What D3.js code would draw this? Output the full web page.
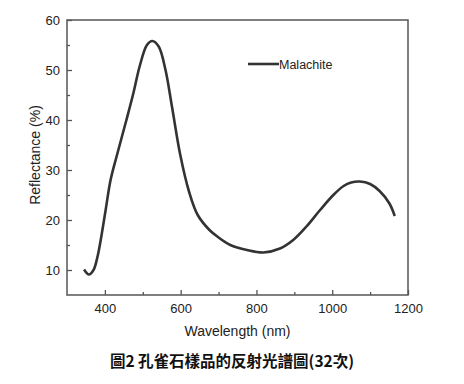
<!DOCTYPE html>
<html>
<head>
<meta charset="utf-8">
<script src="https://cdn.jsdelivr.net/npm/d3@7"></script>
<style>
  body { margin: 0; background: #fff; }
  svg { display: block; }
</style>
</head>
<body>
<div id="chart"></div>
<script>
// spectrum
var wavelength = [345, 358, 370, 380, 389, 402, 415, 433, 455, 475, 492, 511, 525, 542, 560, 577, 599, 622, 645, 676, 700, 731, 775, 818, 862, 897, 932, 968, 1003, 1030, 1050, 1073, 1100, 1125, 1151, 1165]
var reflectance = [10.1, 9.1, 10, 12.5, 16, 22, 28, 33.3, 39.5, 45.3, 50.8, 55, 55.8, 54.7, 50, 42.7, 33, 25.7, 21, 18, 16.5, 15, 14, 13.5, 14.3, 16, 18.7, 22, 25, 26.8, 27.5, 27.7, 27.2, 25.8, 23.3, 20.8]
var xTicks = [400, 600, 800, 1000, 1200]
var yTicks = [10, 20, 30, 40, 50, 60]
var seriesName = "Malachite"
var caption = "圖2 孔雀石樣品的反射光譜圖(32次)"

var margin = { top: 20, right: 56, bottom: 89, left: 67 }
var svgWidth = 464, svgHeight = 384
var width = svgWidth - margin.left - margin.right
var height = svgHeight - margin.top - margin.bottom

var svg = d3.select("#chart").append("svg")
    .attr("width", svgWidth)
    .attr("height", svgHeight)

var chart = svg.append("g")
    .attr("transform", "translate(" + margin.left + "," + margin.top + ")")

var x = d3.scaleLinear().domain([300, 1200]).range([0, width])
var y = d3.scaleLinear().domain([5, 60]).range([height, 0])

var data = wavelength.map(function(w, i) { return { w: w, r: reflectance[i] } })

// minor ticks
chart.append("g")
    .attr("transform", "translate(0," + height + ")")
    .call(d3.axisBottom(x).tickValues(xTicks.map(function(t) { return t - 100 }).filter(function(t) { return t > 300 })).tickSize(-3).tickFormat(""))
    .call(styleAxis)
chart.append("g")
    .call(d3.axisLeft(y).tickValues(yTicks.map(function(t) { return t - 5 }).filter(function(t) { return t > 5 })).tickSize(-3).tickFormat(""))
    .call(styleAxis)

// major ticks
chart.append("g")
    .attr("transform", "translate(0," + height + ")")
    .call(d3.axisBottom(x).tickValues(xTicks).tickSize(-5).tickPadding(9).tickFormat(d3.format("d")))
    .call(styleAxis)
chart.append("g")
    .call(d3.axisLeft(y).tickValues(yTicks).tickSize(-5).tickPadding(7).tickFormat(d3.format("d")))
    .call(styleAxis)

// frame
chart.append("rect")
    .attr("width", width)
    .attr("height", height)
    .style("fill", "none")
    .style("stroke", "#555")
    .style("stroke-width", 1.5)

var line = d3.line()
    .x(function(d) { return x(d.w) })
    .y(function(d) { return y(d.r) })
    .curve(d3.curveCatmullRom.alpha(0.5))

chart.append("path")
    .datum(data)
    .attr("d", line)
    .style("fill", "none")
    .style("stroke", "#333")
    .style("stroke-width", 2.6)
    .style("stroke-linejoin", "round")

// legend
chart.append("line")
    .attr("x1", 181).attr("x2", 212)
    .attr("y1", 44).attr("y2", 44)
    .style("stroke", "#333").style("stroke-width", 2.6)
chart.append("text")
    .attr("x", 212).attr("y", 48.5)
    .text(seriesName)
    .style("font-family", "'Liberation Sans', Arial, sans-serif")
    .style("font-size", "12.5px")
    .style("fill", "#222")

// axis titles
svg.append("text")
    .attr("x", margin.left + width / 2).attr("y", 336)
    .attr("text-anchor", "middle")
    .text("Wavelength (nm)")
    .style("font-family", "'Liberation Sans', Arial, sans-serif")
    .style("font-size", "14px")
    .style("fill", "#222")
svg.append("text")
    .attr("transform", "translate(40,155) rotate(-90)")
    .attr("text-anchor", "middle")
    .text("Reflectance (%)")
    .style("font-family", "'Liberation Sans', Arial, sans-serif")
    .style("font-size", "14px")
    .style("fill", "#222")

svg.append("text")
    .attr("x", 232).attr("y", 367)
    .attr("text-anchor", "middle")
    .text(caption)
    .style("font-family", "'Noto Sans CJK TC', sans-serif")
    .style("font-size", "15.5px")
    .style("font-weight", "bold")
    .style("fill", "#111")

function styleAxis(g) {
    g.select(".domain").remove()
    g.selectAll("line").style("stroke", "#555").style("stroke-width", 1.3)
    g.selectAll("text")
        .style("font-family", "'Liberation Sans', Arial, sans-serif")
        .style("font-size", "13px")
        .style("fill", "#222")
}
</script>
</body>
</html>
